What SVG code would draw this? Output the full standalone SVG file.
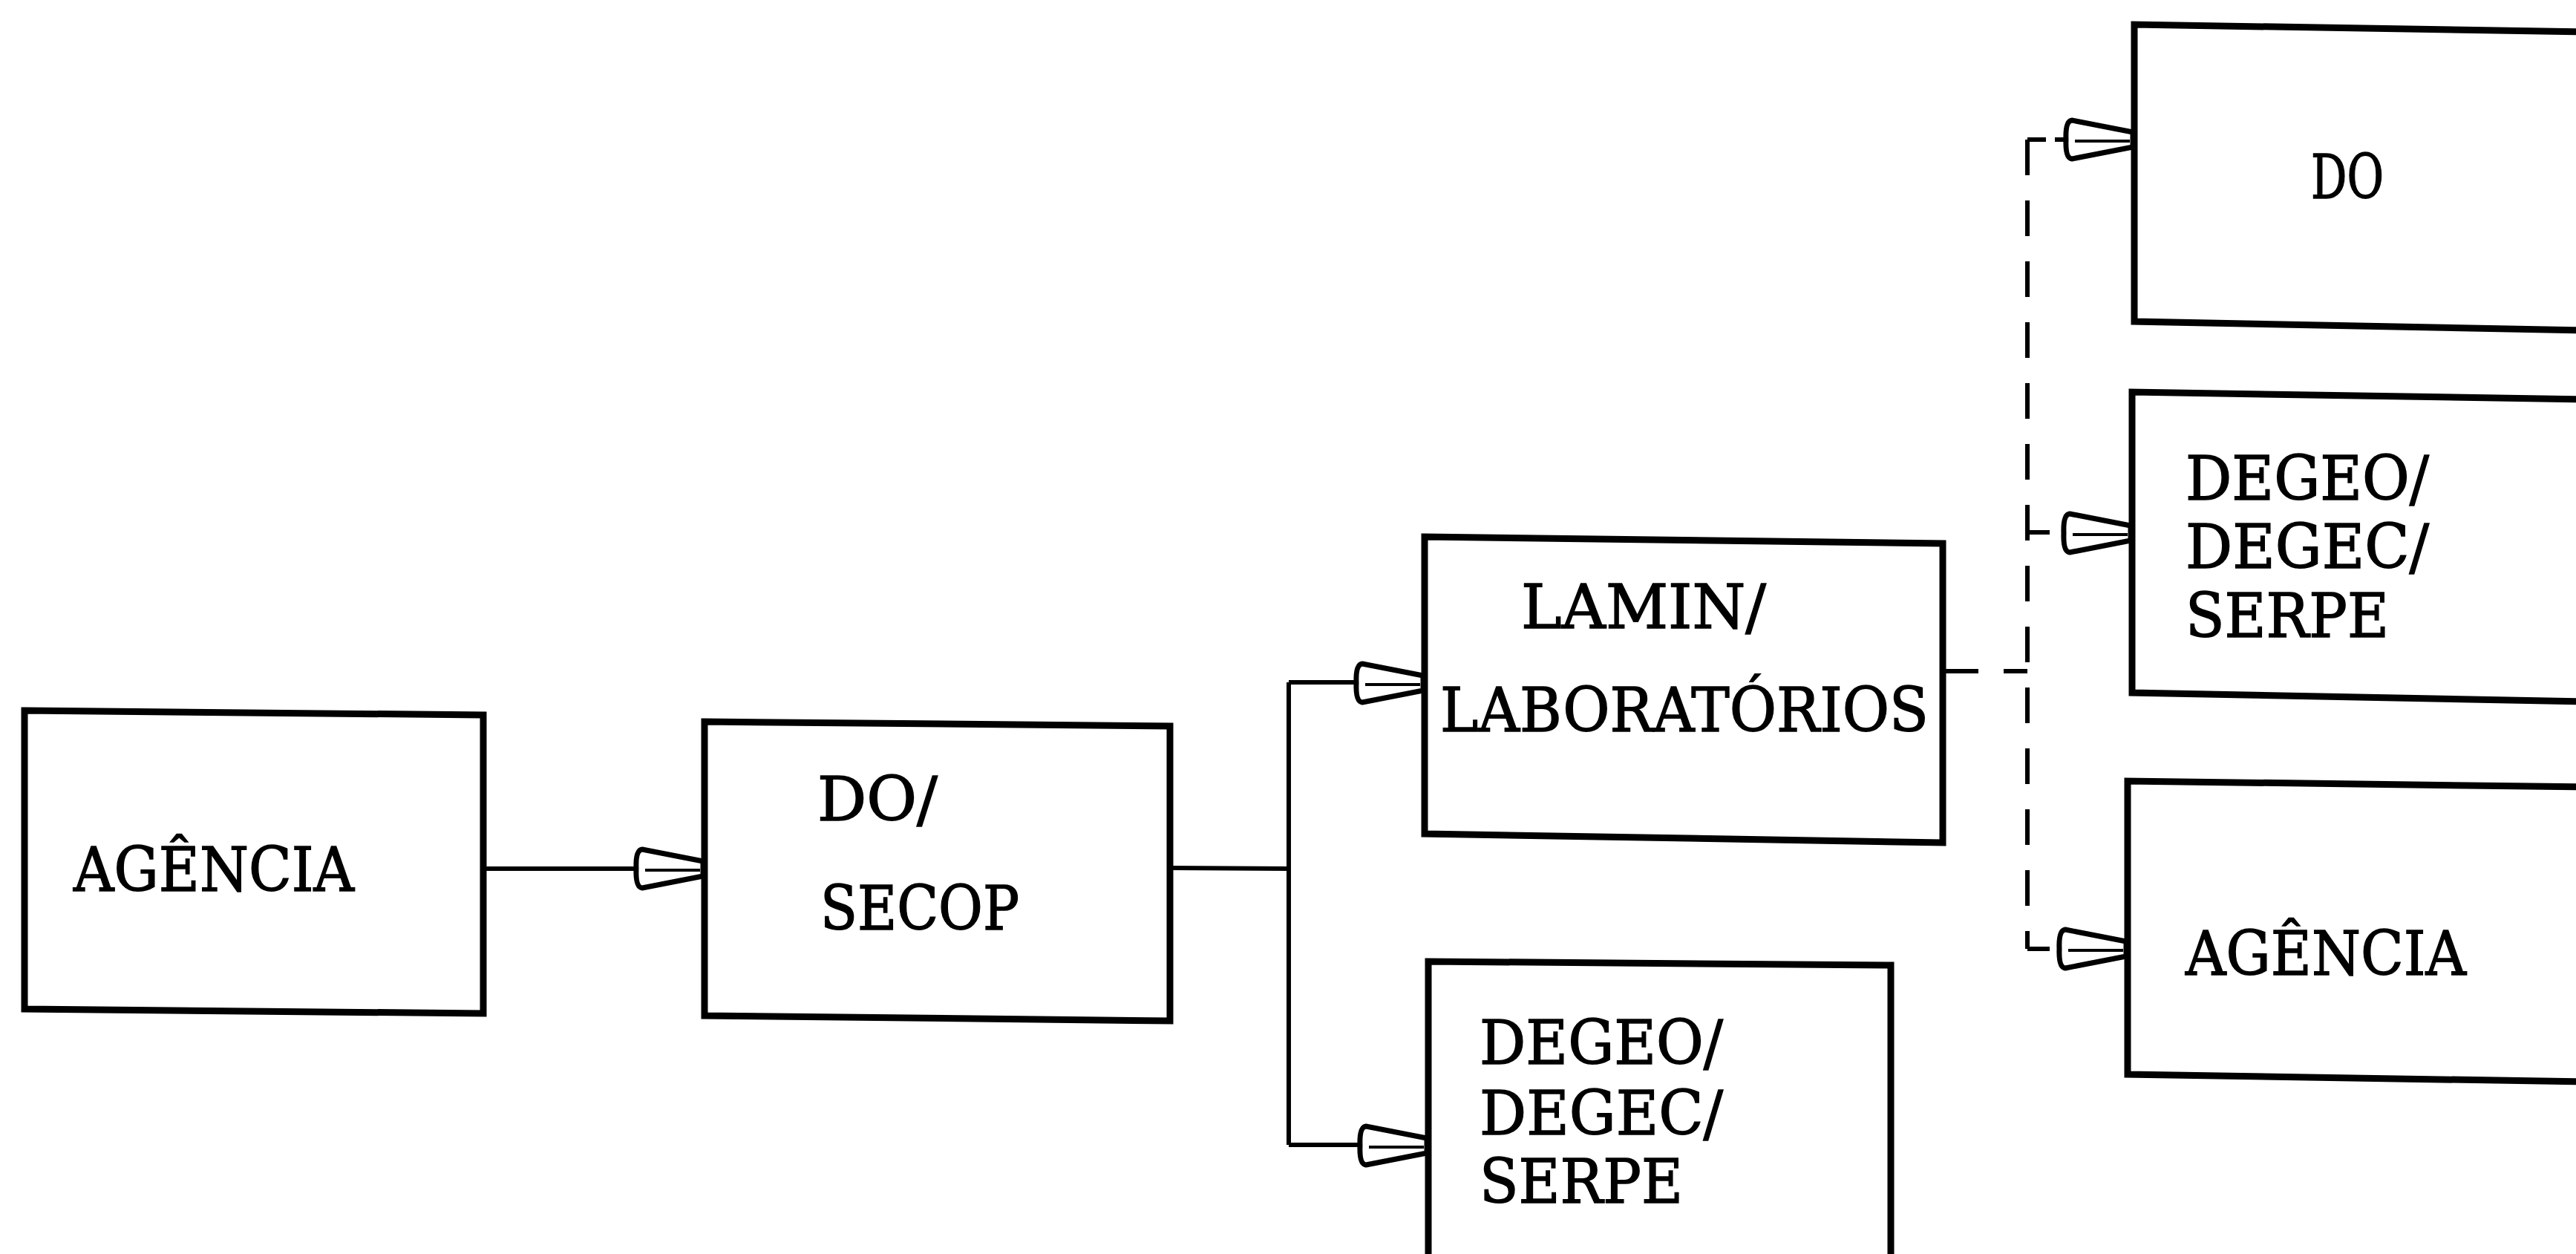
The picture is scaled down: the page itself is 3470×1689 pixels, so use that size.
<svg xmlns="http://www.w3.org/2000/svg" xmlns:xlink="http://www.w3.org/1999/xlink" width="3470" height="1689" viewBox="0 0 3470 1689">
<style>
.box{fill:none;stroke:#000;stroke-width:9;stroke-linejoin:miter}
.ln{fill:none;stroke:#000;stroke-width:6}
.dash{fill:none;stroke:#000;stroke-width:6;stroke-dasharray:48 34}
.t{font-family:"DejaVu Serif","Liberation Serif",serif;font-size:82px;fill:#000;stroke:#000;stroke-width:1.5}
</style>
<defs>
<g id="ah">
<path d="M-2,-10 L-84,-26 Q-93,-25 -92,0 Q-93,25 -84,26 L-2,10 Z" fill="#fff" stroke="#000" stroke-width="7" stroke-linejoin="round"/>
<path d="M-80,2 L-6,2" fill="none" stroke="#000" stroke-width="4"/>
</g>
</defs>
<rect width="3470" height="1689" fill="#fff"/>
<g id="connectors">
<path class="ln" d="M651,1170 L865,1170"/>
<use xlink:href="#ah" transform="translate(949,1170)"/>
<path class="ln" d="M1576,1169 L1736,1170 M1736,919 L1736,1542 M1736,919 L1830,919 M1736,1542 L1835,1542"/>
<use xlink:href="#ah" transform="translate(1919,920)"/>
<use xlink:href="#ah" transform="translate(1924,1543)"/>
<path class="dash" d="M2617,904 L2731,904"/>
<path class="dash" d="M2731,188 L2731,1278"/>
<path class="ln" d="M2731,188 L2756,188 M2731,717 L2761,717 M2731,1278 L2761,1278"/>
<path class="ln" d="M2768,188 L2785,188"/>
<use xlink:href="#ah" transform="translate(2875,188)"/>
<use xlink:href="#ah" transform="translate(2872,718)"/>
<use xlink:href="#ah" transform="translate(2866,1278)"/>
</g>
<g id="agencia1">
<polygon class="box" points="33,957 651,963 651,1365 33,1359"/>
<text class="t" x="99" y="1200" textLength="378" lengthAdjust="spacingAndGlyphs">AGÊNCIA</text>
</g>
<g id="do-secop">
<polygon class="box" points="949,972 1576,978 1576,1375 949,1368"/>
<text class="t" x="1101" y="1105" textLength="162" lengthAdjust="spacingAndGlyphs">DO/</text>
<text class="t" x="1105" y="1252" textLength="268" lengthAdjust="spacingAndGlyphs">SECOP</text>
</g>
<g id="lamin">
<polygon class="box" points="1919,723 2617,732 2617,1135 1919,1123"/>
<text class="t" x="2049" y="846" textLength="330" lengthAdjust="spacingAndGlyphs">LAMIN/</text>
<text class="t" x="1940" y="985" textLength="658" lengthAdjust="spacingAndGlyphs">LABORATÓRIOS</text>
</g>
<g id="degeo1">
<path class="box" d="M1924,1700 L1924,1295 L2547,1300 L2547,1700"/>
<text class="t" x="1993" y="1433" textLength="328" lengthAdjust="spacingAndGlyphs">DEGEO/</text>
<text class="t" x="1993" y="1528" textLength="328" lengthAdjust="spacingAndGlyphs">DEGEC/</text>
<text class="t" x="1993" y="1620" textLength="274" lengthAdjust="spacingAndGlyphs">SERPE</text>
</g>
<g id="do">
<path class="box" d="M3480,43 L2875,33 L2875,433 L3480,445"/>
<text class="t" x="3113" y="267" textLength="98" lengthAdjust="spacingAndGlyphs">DO</text>
</g>
<g id="degeo2">
<path class="box" d="M3480,538 L2872,528 L2872,933 L3480,945"/>
<text class="t" x="2944" y="673" textLength="328" lengthAdjust="spacingAndGlyphs">DEGEO/</text>
<text class="t" x="2944" y="765" textLength="328" lengthAdjust="spacingAndGlyphs">DEGEC/</text>
<text class="t" x="2944" y="858" textLength="274" lengthAdjust="spacingAndGlyphs">SERPE</text>
</g>
<g id="agencia2">
<path class="box" d="M3480,1060 L2866,1052 L2866,1447 L3480,1457"/>
<text class="t" x="2944" y="1313" textLength="378" lengthAdjust="spacingAndGlyphs">AGÊNCIA</text>
</g>
</svg>
